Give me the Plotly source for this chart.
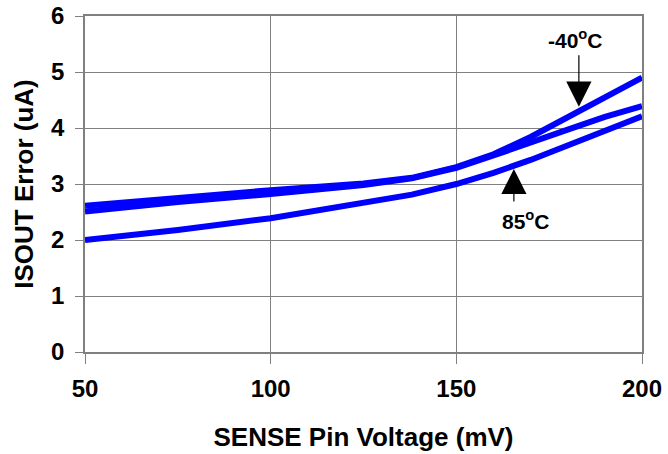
import plotly.graph_objects as go

# SENSE pin voltage (mV)
sense_mv = [50, 75, 100, 125, 138, 150, 160, 170, 180, 190, 200]
# ISOUT error (uA) per temperature
err_m40 = [2.61, 2.76, 2.89, 3.01, 3.11, 3.30, 3.53, 3.84, 4.19, 4.54, 4.90]
err_25 = [2.51, 2.68, 2.82, 2.98, 3.10, 3.29, 3.51, 3.73, 3.97, 4.20, 4.39]
err_85 = [2.00, 2.18, 2.39, 2.65, 2.81, 3.00, 3.20, 3.43, 3.69, 3.96, 4.21]

x_ticks = [50, 100, 150, 200]
y_ticks = [0, 1, 2, 3, 4, 5, 6]

FONT = "Liberation Sans, Arial, sans-serif"
BLUE = "#0000FF"
GRID = "#808080"

fig = go.Figure()
for name, ys in [("-40°C", err_m40), ("25°C", err_25), ("85°C", err_85)]:
    fig.add_trace(go.Scatter(x=sense_mv, y=ys, mode="lines", name=name,
                             line=dict(color=BLUE, width=6), showlegend=False))

ann_font = dict(family=FONT, size=21, color="black", weight="bold")
fig.update_layout(
    width=668, height=454,
    margin=dict(l=85, r=26, t=16, b=102, autoexpand=False),
    paper_bgcolor="white", plot_bgcolor="white",
    annotations=[
        dict(x=183, y=4.38, xref="x", yref="y", text="",
             showarrow=True, ax=0, ay=-53, arrowhead=2, arrowsize=4.2,
             arrowwidth=1.2, arrowcolor="black", standoff=0),
        dict(x=182.2, y=5.59, xref="x", yref="y",
             text="-40<sup>o</sup>C", showarrow=False, font=ann_font),
        dict(x=165.5, y=3.27, xref="x", yref="y", text="",
             showarrow=True, ax=0, ay=34, arrowhead=2, arrowsize=4.2,
             arrowwidth=1.2, arrowcolor="black", standoff=0),
        dict(x=168.7, y=2.35, xref="x", yref="y",
             text="85<sup>o</sup>C", showarrow=False, font=ann_font),
    ],
)
fig.update_xaxes(
    range=[50, 200], tickvals=x_ticks, ticktext=[str(v) for v in x_ticks],
    showgrid=True, gridcolor=GRID, gridwidth=1,
    showline=True, linecolor=GRID, linewidth=1.5, mirror=True,
    ticks="outside", ticklen=10, tickcolor=GRID, tickwidth=1,
    tickfont=dict(family=FONT, size=24, color="black", weight="bold"),
    ticklabelstandoff=4, automargin=False,
    title=dict(text="SENSE Pin Voltage (mV)", standoff=27,
               font=dict(family=FONT, size=26, color="black", weight="bold")),
    zeroline=False,
)
fig.update_yaxes(
    range=[0, 6], tickvals=y_ticks, ticktext=[str(v) for v in y_ticks],
    showgrid=True, gridcolor=GRID, gridwidth=1,
    showline=True, linecolor=GRID, linewidth=1.5, mirror=True,
    ticks="outside", ticklen=8, tickcolor=GRID, tickwidth=1,
    tickfont=dict(family=FONT, size=24, color="black", weight="bold"),
    ticklabelstandoff=6, automargin=False,
    title=dict(text="ISOUT Error (uA)", standoff=10,
               font=dict(family=FONT, size=26, color="black", weight="bold")),
    zeroline=False,
)

fig.write_html("out.html",
               config={"displayModeBar": False},
               post_script="document.body.style.margin='0';"
                           "document.body.style.overflow='hidden';")
